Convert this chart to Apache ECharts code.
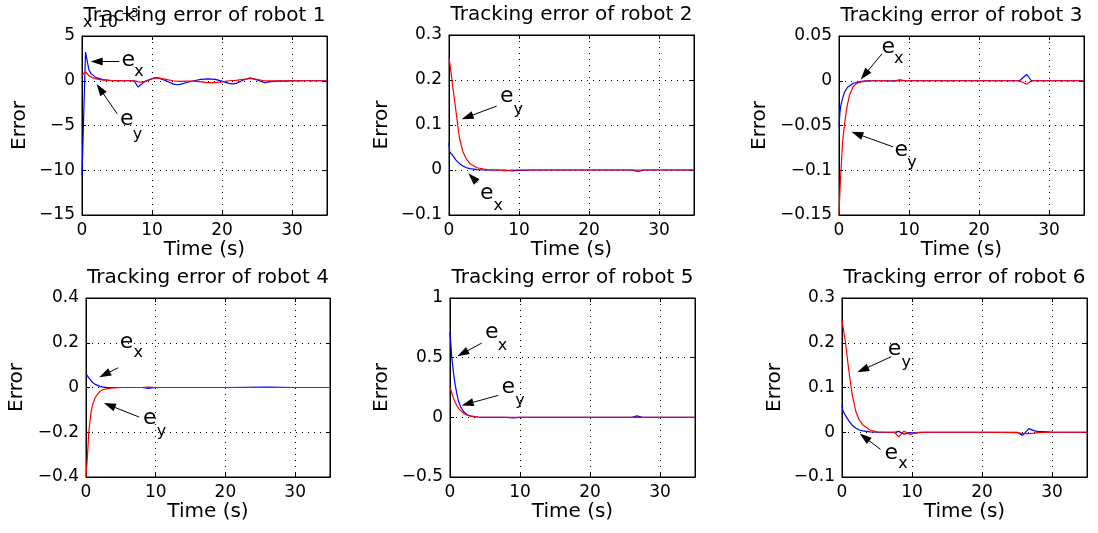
<!DOCTYPE html>
<html><head><meta charset="utf-8">
<script src="https://cdn.jsdelivr.net/npm/echarts@6/dist/echarts.min.js"></script>
<style>html,body{margin:0;padding:0;background:#fff}#c{width:1098px;height:533px}</style>
</head><body><div id="c"></div>
<script>
// ---------------- data ----------------
const xTicks = [0, 10, 20, 30];
const xMax = 35;

const r1T  = [0, 0.5, 1, 1.3, 2, 3, 4, 5, 6, 7, 7.5, 8, 8.5, 9, 10, 10.5, 11, 12, 13, 13.5, 14, 15, 16, 17, 18, 19, 20, 21, 21.5, 22, 23, 24, 25, 26, 27, 28, 30, 32, 35];
const r1Ex = [-10.6, 3.2, 1.2, 0.8, 0.35, 0.12, 0.05, 0.02, 0, 0, -0.05, -0.7, -0.4, -0.05, 0.25, 0.35, 0.3, 0, -0.35, -0.45, -0.4, -0.2, 0, 0.15, 0.22, 0.15, -0.05, -0.3, -0.35, -0.3, 0.05, 0.32, 0.1, -0.2, -0.1, -0.05, -0.02, 0, 0];
const r1Ey = [0.65, 1.0, 0.55, 0.4, 0.2, 0.08, 0.03, 0.01, 0, 0, 0, -0.1, -0.15, -0.1, 0.2, 0.3, 0.3, 0.15, 0, -0.05, -0.08, -0.05, -0.05, -0.12, -0.2, -0.22, -0.12, 0, 0.03, 0.05, 0.15, 0.25, 0.15, 0, -0.02, -0.02, 0, 0, 0];
const r1YTicks = [-15, -10, -5, 0, 5];

const r2T  = [0, 0.1, 0.5, 1, 1.5, 2, 2.5, 3, 4, 5, 6, 7, 8, 9, 10, 12, 15, 20, 25, 26, 27, 28, 30, 35];
const r2Ex = [0.06, 0.04, 0.033, 0.022, 0.014, 0.009, 0.005, 0.003, 0.001, 0, 0, 0, 0, -0.002, -0.001, 0, 0, 0, 0, 0, -0.003, 0, 0, 0];
const r2Ey = [0.25, 0.24, 0.19, 0.13, 0.07, 0.04, 0.024, 0.014, 0.005, 0.002, 0, 0, -0.002, 0, 0, 0, 0, 0, 0, 0, 0, 0, 0, 0];
const r2YTicks = [-0.1, 0, 0.1, 0.2, 0.3];

const r3T  = [0, 0.15, 0.25, 0.5, 0.75, 1, 1.25, 1.5, 2, 2.5, 3, 3.5, 4, 5, 6, 8, 8.7, 9.5, 12, 20, 25.8, 26.8, 27.5, 30, 35];
const r3Ex = [-0.05, -0.034, -0.028, -0.02, -0.0135, -0.01, -0.007, -0.0055, -0.003, -0.002, -0.001, -0.0005, 0, 0, 0, 0, 0.001, 0, 0, 0, 0, 0.007, 0, 0, 0];
const r3Ey = [-0.15, -0.12, -0.105, -0.07, -0.051, -0.036, -0.025, -0.016, -0.007, -0.003, -0.0015, -0.001, -0.0005, 0, 0, -0.0005, 0.0005, 0, 0, 0, 0, -0.004, 0, 0, 0];
const r3YTicks = [-0.15, -0.1, -0.05, 0, 0.05];

const r4T  = [0, 0.2, 0.4, 0.6, 0.8, 1, 1.25, 1.5, 2, 2.5, 3, 4, 5, 6, 8, 9, 10, 12, 20, 26, 30, 35];
const r4Ex = [0.061, 0.052, 0.043, 0.035, 0.027, 0.02, 0.015, 0.01, 0.005, 0.0015, 0.0005, 0, 0, 0, 0, -0.004, 0, 0, 0, 0.002, 0, 0];
const r4Ey = [-0.4, -0.31, -0.2, -0.14, -0.097, -0.072, -0.05, -0.036, -0.017, -0.009, -0.005, -0.0015, 0, 0, 0, 0.002, 0, 0, 0, 0, 0, 0];
const r4YTicks = [-0.4, -0.2, 0, 0.2, 0.4];

const r5T  = [0, 0.25, 0.5, 0.75, 1, 1.25, 1.5, 2, 2.5, 3, 3.5, 4, 5, 6, 8, 9, 10, 20, 26, 26.7, 27.5, 30, 35];
const r5Ex = [0.715, 0.5, 0.37, 0.27, 0.19, 0.13, 0.09, 0.045, 0.02, 0.01, 0.006, 0.003, 0, 0, 0, -0.005, 0, 0, 0, 0.012, 0, 0, 0];
const r5Ey = [0.254, 0.205, 0.16, 0.124, 0.095, 0.073, 0.057, 0.03, 0.018, 0.01, 0.006, 0.003, 0, 0, 0, 0, 0, 0, 0, 0, 0, 0, 0];
const r5YTicks = [-0.5, 0, 0.5, 1];

const r6T  = [0, 0.1, 0.5, 1, 1.5, 2, 2.5, 3, 4, 5, 6, 7.5, 8.1, 8.8, 9.2, 9.7, 10.5, 11, 12, 20, 25, 25.8, 26.7, 27.5, 28, 30, 35];
const r6Ex = [0.06, 0.049, 0.037, 0.025, 0.015, 0.009, 0.005, 0.003, 0.001, 0, 0, 0, 0.002, -0.004, -0.003, -0.001, -0.002, 0, 0, 0, 0, -0.007, 0.008, 0.003, 0.002, 0.0005, 0];
const r6Ey = [0.25, 0.24, 0.2, 0.135, 0.08, 0.045, 0.027, 0.016, 0.005, 0.001, 0, 0, -0.0105, 0.002, 0, -0.005, -0.002, -0.001, 0, 0, -0.001, -0.003, -0.003, -0.002, -0.001, 0, 0];
const r6YTicks = [-0.1, 0, 0.1, 0.2, 0.3];

// annotation arrows [tailT, tailV, headT, headV] and labels [t, v, text]
const r1Arrows = [[5.33, 2.14, 1.24, 2.14], [5.04, -3.7, 2.1, -0.37]];
const r1Labels = [[6.6, 2.33, 'e'], [8.15, 1.0, 'x'], [6.38, -4.33, 'e'], [7.93, -6.0, 'y']];
const r2Arrows = [[6.81, 0.142, 1.81, 0.113], [4.05, -0.028, 2.76, -0.0074]];
const r2Labels = [[8.24, 0.163, 'e'], [9.9, 0.133, 'y'], [5.38, -0.052, 'e'], [7.05, -0.08, 'x']];
const r3Arrows = [[6.14, 0.03, 3.1, 0.0014], [7.71, -0.0738, 1.76, -0.0571]];
const r3Labels = [[7.05, 0.0373, 'e'], [8.52, 0.0244, 'x'], [8.9, -0.0774, 'e'], [10.43, -0.0922, 'y']];
const r4Arrows = [[4.62, 0.0882, 1.9, 0.0459], [7.62, -0.132, 2.57, -0.0696]];
const r4Labels = [[5.81, 0.204, 'e'], [7.48, 0.156, 'x'], [9.14, -0.139, 'e'], [10.81, -0.198, 'y']];
const r5Arrows = [[4.52, 0.622, 1.05, 0.511], [6.9, 0.184, 1.67, 0.1]];
const r5Labels = [[5.95, 0.715, 'e'], [7.48, 0.603, 'x'], [8.33, 0.254, 'e'], [10, 0.142, 'y']];
const r6Arrows = [[7.05, 0.169, 2.19, 0.134], [5.52, -0.0385, 2.52, -0.003]];
const r6Labels = [[7.52, 0.186, 'e'], [9.19, 0.156, 'y'], [7.05, -0.0474, 'e'], [8.71, -0.071, 'x']];

// ---------------- layout / style ----------------
const F = 'DejaVu Sans';
const boxes = [[82, 36, 245, 179], [449, 35, 245, 180], [839, 36, 245, 179],
               [86, 298, 244, 179], [450, 298, 245, 179], [842, 298, 245, 179]];
const yNameGaps = [52, 57, 69, 59, 58, 57];

const robots = [
  {t: r1T, ex: r1Ex, ey: r1Ey, yt: r1YTicks, arrows: r1Arrows, labels: r1Labels},
  {t: r2T, ex: r2Ex, ey: r2Ey, yt: r2YTicks, arrows: r2Arrows, labels: r2Labels},
  {t: r3T, ex: r3Ex, ey: r3Ey, yt: r3YTicks, arrows: r3Arrows, labels: r3Labels},
  {t: r4T, ex: r4Ex, ey: r4Ey, yt: r4YTicks, arrows: r4Arrows, labels: r4Labels},
  {t: r5T, ex: r5Ex, ey: r5Ey, yt: r5YTicks, arrows: r5Arrows, labels: r5Labels},
  {t: r6T, ex: r6Ex, ey: r6Ey, yt: r6YTicks, arrows: r6Arrows, labels: r6Labels}
];

const fmtY = v => { const n = +(+v).toFixed(6); return n < 0 ? '\u2212' + (-n) : String(n); };
const xInt = xTicks[1] - xTicks[0];

const option = {
  animation: false,
  backgroundColor: '#fff',
  title: [], grid: [], xAxis: [], yAxis: [], series: [],
  graphic: [
    {type: 'text', left: 83, top: 15, z: 1, style: {text: 'x 10', font: '16px "DejaVu Sans"', fill: '#000'}},
    {type: 'text', left: 121, top: 8, z: 1, style: {text: '\u22123', font: '12px "DejaVu Sans"', fill: '#000'}}
  ]
};

robots.forEach((r, i) => {
  const [L, T, W, H] = boxes[i];
  const yMin = r.yt[0], yMax = r.yt[r.yt.length - 1];
  const yInt = +(r.yt[1] - r.yt[0]).toFixed(6);
  option.grid.push({left: L, top: T, width: W, height: H, show: true,
    borderColor: '#000', borderWidth: 1, backgroundColor: 'rgba(0,0,0,0)'});
  option.title.push({text: 'Tracking error of robot ' + (i + 1), left: L + W / 2, top: T - 30,
    textAlign: 'center', padding: 0, z: 10,
    textStyle: {color: '#000', fontSize: 20, fontWeight: 'normal', fontFamily: F}});
  const common = {
    axisLine: {show: true, onZero: false, lineStyle: {color: '#000', width: 1}},
    axisTick: {show: true, inside: true, length: 4, lineStyle: {color: '#000'}},
    splitLine: {show: true, lineStyle: {color: '#000', width: 1, type: [1, 5]}},
    nameLocation: 'middle',
    nameTextStyle: {color: '#000', fontSize: 20, fontFamily: F}
  };
  option.xAxis.push(Object.assign({}, common, {
    gridIndex: i, type: 'value', min: xTicks[0], max: xMax, interval: xInt,
    name: 'Time (s)', nameGap: 21,
    axisLabel: {color: '#000', fontSize: 17, fontFamily: F, margin: 7,
      formatter: v => (xTicks.indexOf(+v) >= 0 ? String(v) : '')}
  }));
  option.yAxis.push(Object.assign({}, common, {
    gridIndex: i, type: 'value', min: yMin, max: yMax, interval: yInt,
    name: 'Error', nameGap: yNameGaps[i],
    nameTextStyle: {color: '#000', fontSize: 20, fontFamily: F},
    axisLabel: {color: '#000', fontSize: 17, fontFamily: F, margin: 7, formatter: fmtY}
  }));
  // mirror axes (top / right) carrying only inward ticks, as in the original frame
  const mirror = {
    axisLine: {show: true, onZero: false, lineStyle: {color: '#000', width: 1}},
    axisTick: {show: true, inside: true, length: 4, lineStyle: {color: '#000'}},
    axisLabel: {show: false}, splitLine: {show: false}
  };
  option.xAxis.push(Object.assign({}, mirror, {gridIndex: i, type: 'value', position: 'top',
    min: xTicks[0], max: xMax, interval: xInt}));
  option.yAxis.push(Object.assign({}, mirror, {gridIndex: i, type: 'value', position: 'right',
    min: yMin, max: yMax, interval: yInt}));
  const xi = option.xAxis.length - 2, yi = option.yAxis.length - 2;

  const pxX = W / (xMax - xTicks[0]), pxY = H / (yMax - yMin);
  const arrowData = r.arrows.map(a => {
    const dx = (a[2] - a[0]) * pxX, dy = (a[3] - a[1]) * pxY;
    const len = Math.hypot(dx, dy);
    const k = (len - 6) / len;
    return [
      {coord: [a[0], a[1]], symbol: 'none'},
      {coord: [a[0] + (a[2] - a[0]) * k, a[1] + (a[3] - a[1]) * k], symbol: 'triangle', symbolSize: [8, 12]}
    ];
  });
  option.series.push({
    type: 'line', xAxisIndex: xi, yAxisIndex: yi, name: 'ex' + i,
    data: r.t.map((x, k) => [x, r.ex[k]]),
    symbol: 'none', showSymbol: false, silent: true,
    lineStyle: {color: '#0000ff', width: 1.2}, itemStyle: {color: '#0000ff'},
    emphasis: {disabled: true}
  });
  option.series.push({
    type: 'line', xAxisIndex: xi, yAxisIndex: yi, name: 'ey' + i,
    data: r.t.map((x, k) => [x, r.ey[k]]),
    symbol: 'none', showSymbol: false, silent: true,
    lineStyle: {color: '#ff0000', width: 1.2}, itemStyle: {color: '#ff0000'},
    emphasis: {disabled: true},
    markLine: {
      silent: true, animation: false,
      symbol: ['none', 'triangle'], symbolSize: 10,
      lineStyle: {color: '#000', width: 1, type: 'solid'},
      itemStyle: {color: '#000'},
      label: {show: false}, emphasis: {disabled: true},
      data: arrowData
    },
    markPoint: {
      silent: true, animation: false,
      symbol: 'circle', symbolSize: 0, itemStyle: {color: 'rgba(0,0,0,0)'},
      label: {show: true, position: 'inside', color: '#000', fontFamily: F,
        formatter: p => p.name},
      emphasis: {disabled: true},
      data: r.labels.map(l => ({name: l[2], coord: [l[0], l[1]],
        label: {fontSize: l[2] === 'e' ? 22 : 16}}))
    }
  });
});

const chart = echarts.init(document.getElementById('c'), null, {renderer: 'canvas'});
chart.setOption(option);
</script>
</body></html>
